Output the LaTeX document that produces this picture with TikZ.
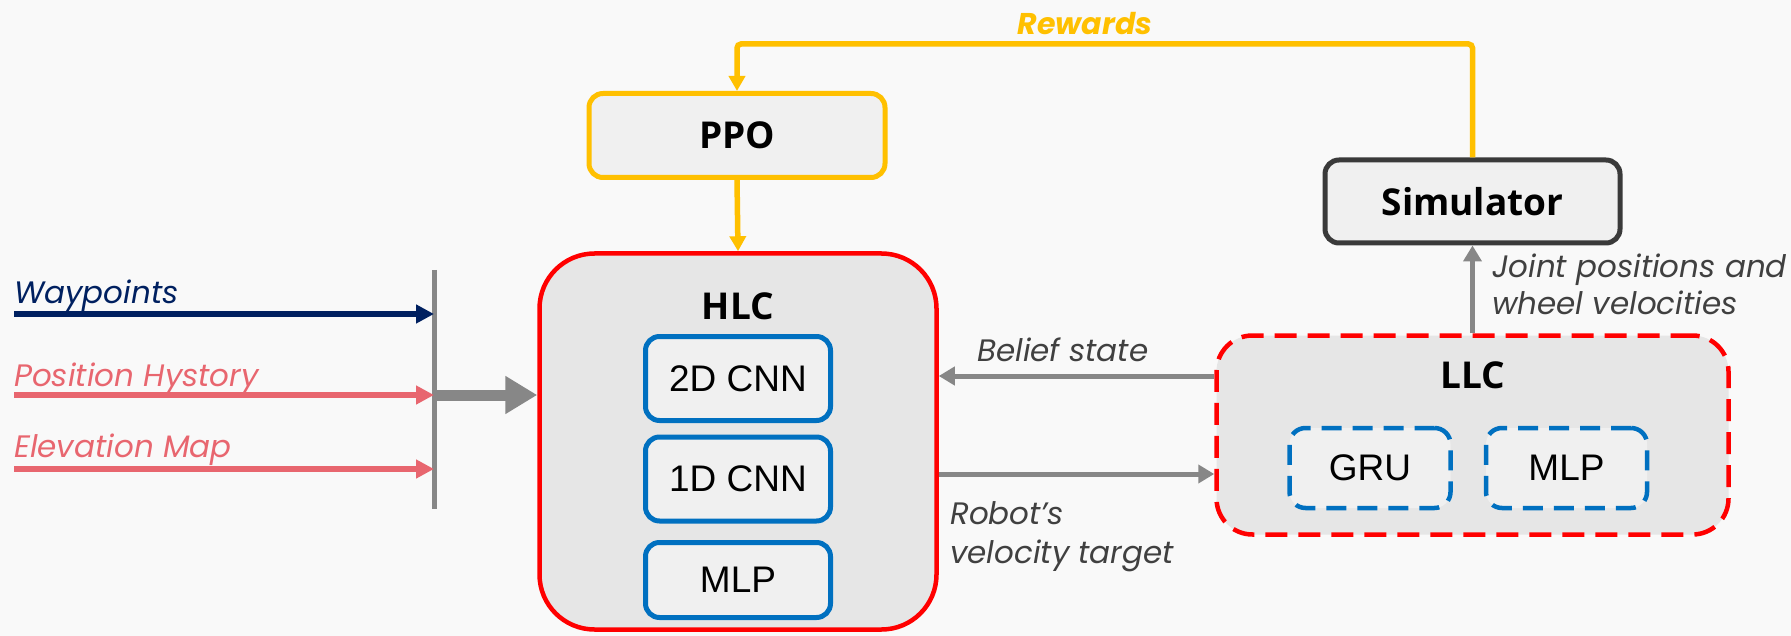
\documentclass[tikz,border=0pt]{standalone}
\usepackage{fontspec}
\setmainfont{Open Sans}
\newfontfamily\tilefont{Liberation Sans}
\newfontfamily\notefont{Poppins}
\usetikzlibrary{arrows.meta}
\definecolor{bgc}{HTML}{F9F9F9}
\definecolor{gold}{HTML}{FFC000}
\definecolor{navy}{HTML}{002060}
\definecolor{rose}{HTML}{E8666F}
\definecolor{arrowgray}{HTML}{878787}
\definecolor{boxblue}{HTML}{0070C0}
\definecolor{darkrim}{HTML}{3A3A3A}
\definecolor{labelgray}{HTML}{404040}
\definecolor{panel}{HTML}{E6E6E6}
\definecolor{tile}{HTML}{F0F0F0}
\tikzset{
  titletext/.style={font=\fontsize{37}{44}\selectfont\bfseries, text=black},
  plaintext/.style={font=\tilefont\fontsize{37}{44}\selectfont, text=black},
  flowlabel/.style={font=\notefont\fontsize{31}{37}\selectfont\itshape, text=labelgray, inner sep=0pt},
  inlabel/.style={font=\notefont\fontsize{31}{37}\selectfont\itshape, inner sep=0pt},
  ppobox/.style={draw=gold, line width=5pt, fill=tile, rounded corners=14pt,
    minimum width=296pt, minimum height=84pt, titletext},
  simbox/.style={draw=darkrim, line width=5pt, fill=tile, rounded corners=14pt,
    minimum width=295pt, minimum height=83pt, titletext},
  hlcbox/.style={draw=red, line width=4.5pt, fill=panel, rounded corners=55pt,
    minimum width=397pt, minimum height=376pt},
  llcbox/.style={draw=red, line width=4.5pt, fill=panel, rounded corners=36pt,
    dash pattern=on 22pt off 11pt, minimum width=512pt, minimum height=199pt},
  tilebox/.style={draw=boxblue, line width=5pt, fill=tile, rounded corners=14pt,
    minimum width=185pt, plaintext},
  dashtile/.style={draw=boxblue, line width=4.5pt, fill=tile, rounded corners=16pt,
    dash pattern=on 20pt off 11pt, minimum width=161pt, minimum height=80pt, plaintext},
  goldarrow/.style={draw=gold, line width=5.5pt, rounded corners=4pt,
    -{Triangle[length=15pt,width=16pt]}},
  grayarrow/.style={draw=arrowgray, line width=5pt, -{Triangle[length=16pt,width=18pt]}},
  inarrow/.style={line width=6pt, -{Triangle[length=18pt,width=18pt]}},
  bigarrow/.style={draw=arrowgray, line width=11pt, -{Triangle[length=32pt,width=36pt]}},
  barline/.style={draw=arrowgray, line width=5pt},
}
\begin{document}
\begin{tikzpicture}[x=1pt,y=-1pt]
  % canvas
  \fill[bgc] (0,0) rectangle (1791,636);
  \useasboundingbox (0,0) rectangle (1791,636);

  % main blocks
  \node[ppobox] (ppo) at (737,135.5) {PPO};
  \node[simbox] (sim) at (1472.5,201.5) {Simulator};
  \node[hlcbox] (hlc) at (738,441.5) {};
  \node[titletext] (hlct) at (738,306) {HLC};
  \node[tilebox, minimum height=84pt] (cnn2) at (738,378.5) {2D CNN};
  \node[tilebox, minimum height=84pt] (cnn1) at (738,479) {1D CNN};
  \node[tilebox, minimum height=75pt] (mlph) at (738,580) {MLP};
  \node[llcbox] (llc) at (1472.5,435) {};
  \node[titletext] (llct) at (1473,375) {LLC};
  \node[dashtile] (gru) at (1370,468) {GRU};
  \node[dashtile] (mlpl) at (1566.5,468) {MLP};

  % reward loop
  \draw[goldarrow] (sim.north) -- (sim.north |- 0,44) -- (ppo.north |- 0,44) -- (ppo.north);
  \node[font=\notefont\fontsize{30}{36}\selectfont\bfseries\itshape, text=gold, anchor=base, inner sep=0pt]
    (rew) at (1085,35) {Rewards};
  \draw[goldarrow, rounded corners=0pt] (ppo.south) -- (hlc.north);

  % controller links
  \draw[grayarrow] (llc.north) -- (sim.south);
  \node[flowlabel, anchor=base west] (jnt) at (1492,278) {Joint positions and};
  \node[flowlabel, anchor=base west] (whl) at (1492,315) {wheel velocities};
  \draw[grayarrow] (llc.west |- 0,376) -- (hlc.east |- 0,376);
  \node[flowlabel, anchor=base west] (bel) at (977,361) {Belief state};
  \draw[grayarrow] (hlc.east |- 0,474) -- (llc.west |- 0,474);
  \node[flowlabel, anchor=base west] (rob) at (950,524) {Robot’s};
  \node[flowlabel, anchor=base west] (vel) at (950,563) {velocity target};

  % observation inputs
  \coordinate (bartop) at (434,270);
  \coordinate (barbot) at (434,509);
  \coordinate (wsrc) at (14,314);
  \coordinate (psrc) at (14,395);
  \coordinate (esrc) at (14,469);
  \draw[barline] (bartop) -- (barbot);
  \draw[inarrow, navy] (wsrc) -- (wsrc -| bartop);
  \draw[inarrow, rose] (psrc) -- (psrc -| bartop);
  \draw[inarrow, rose] (esrc) -- (esrc -| bartop);
  \node[inlabel, text=navy, anchor=base west] (wpt) at (14,304) {Waypoints};
  \node[inlabel, text=rose, anchor=base west] (pos) at (14,386) {Position Hystory};
  \node[inlabel, text=rose, anchor=base west] (ele) at (14,457) {Elevation Map};
  \draw[bigarrow] (psrc -| bartop) -- (hlc.west |- psrc);
\end{tikzpicture}
\end{document}
